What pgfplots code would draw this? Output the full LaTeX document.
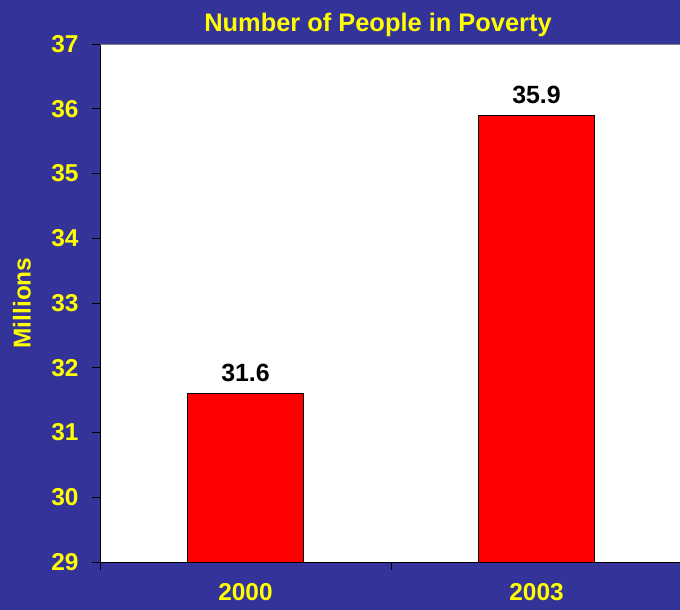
\documentclass[border=0pt]{standalone}
\usepackage{pgfplots}
\pgfplotsset{compat=1.18}
\usepackage{fontspec}
\setmainfont{Liberation Sans}
\definecolor{bg}{RGB}{51,51,153}
\definecolor{ylw}{RGB}{255,255,0}
\definecolor{barred}{RGB}{255,0,0}
\begin{document}
\begin{tikzpicture}[x=1bp,y=1bp]
\useasboundingbox (0,0) rectangle (680,610);
\fill[bg] (0,0) rectangle (680,610);
\begin{axis}[
  at={(100bp,48bp)}, anchor=south west,
  scale only axis, width=580bp, height=518bp,
  xmin=-0.5, xmax=1.4931, ymin=29, ymax=37,
  axis x line*=bottom, axis y line*=left,
  axis line style={black, line width=0.8pt},
  axis background/.style={fill=white},
  /pgf/number format/assume math mode=true,
  ytick={29,30,...,37},
  yticklabel style={font=\bfseries\fontsize{24.5}{28}\selectfont, text=ylw, xshift=-10bp},
  tick style={black, line width=0.8pt},
  tick align=outside, major tick length=8bp,
  xtick={-0.5,0.5}, xticklabels={},
  extra x ticks={0,1}, extra x tick labels={2000,2003},
  extra x tick style={major tick length=0pt,
    xticklabel style={font=\bfseries\fontsize{24.5}{28}\selectfont, text=ylw, yshift=-20bp, inner sep=1bp}},
  ybar, bar width=0.4,
  nodes near coords,
  every node near coord/.append style={font=\bfseries\fontsize{25}{28}\selectfont, text=black, yshift=8bp,
    /pgf/number format/fixed, /pgf/number format/precision=1, /pgf/number format/fixed zerofill},
]
\addplot[fill=barred, draw=black, line width=0.8pt] coordinates {(0,31.6) (1,35.9)};
\draw[gray, line width=0.8pt] (rel axis cs:0,1) -- (rel axis cs:1,1);
\end{axis}
\node[font=\bfseries\fontsize{25.5}{30}\selectfont, text=ylw, anchor=base] at (378,578) {Number of People in Poverty};
\node[font=\bfseries\fontsize{24.5}{28}\selectfont, text=ylw, rotate=90] at (22,307) {Millions};
\end{tikzpicture}
\end{document}
